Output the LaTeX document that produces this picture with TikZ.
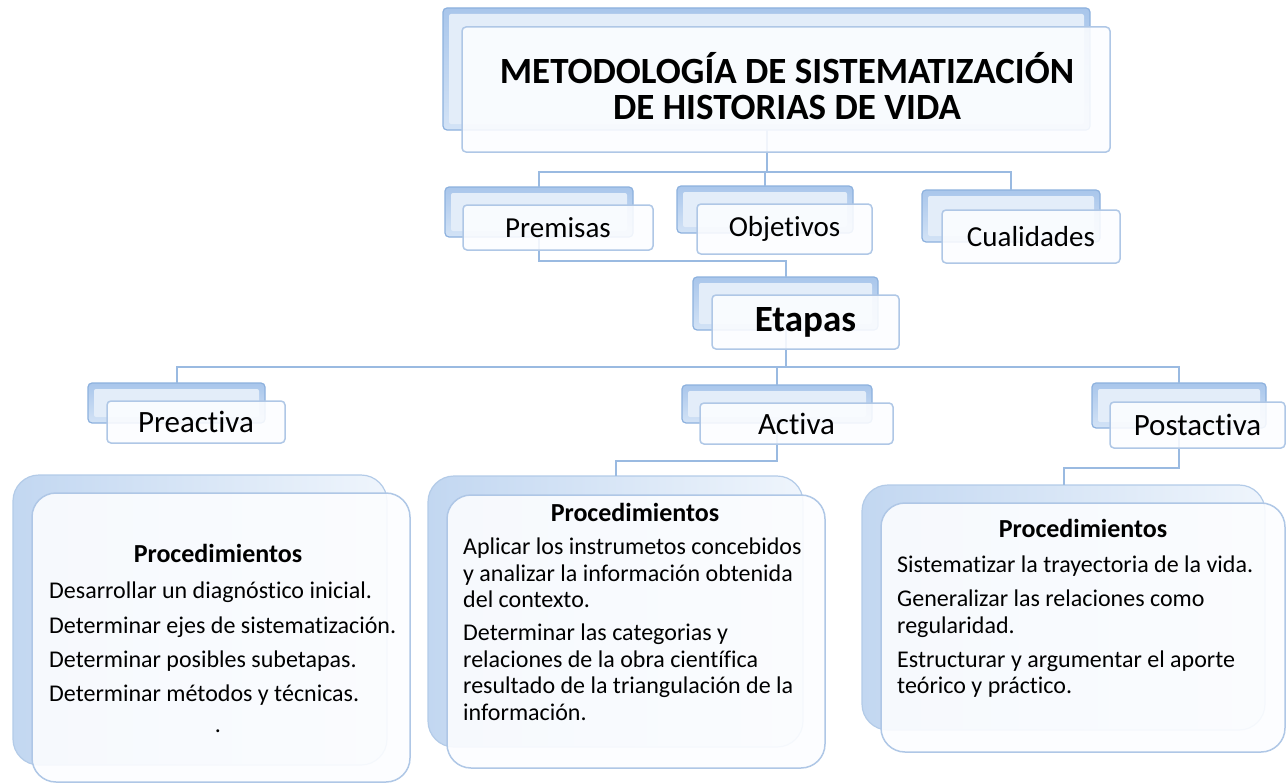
\documentclass[tikz,border=0pt]{standalone}
\usepackage{fontspec}
\setmainfont{Carlito}[Ligatures={NoCommon}, Contextuals={NoAlternate}]
\definecolor{connc}{HTML}{9ABAE1}
\definecolor{backdraw}{HTML}{8DB1DE}
\definecolor{backtop}{HTML}{A9C6EB}
\definecolor{backbot}{HTML}{D3E3F6}
\definecolor{facec}{HTML}{E3EDF9}
\definecolor{frontdraw}{HTML}{AFC7E6}
\definecolor{frontfill}{HTML}{FCFDFF}
\definecolor{bigdraw}{HTML}{B3CBE8}
\definecolor{bigleft}{HTML}{C2D7F1}
\definecolor{bigmid}{HTML}{E2ECF9}
\definecolor{bigright}{HTML}{EFF5FC}
\tikzset{
  connl/.style={draw=connc, line width=2pt},
  backbox/.style={draw=backdraw, line width=1.2pt, rounded corners=4pt,
    top color=backtop, bottom color=backbot, anchor=north west,
    inner sep=0pt, outer sep=0pt,
    path picture={\fill[facec, rounded corners=2pt]
      ([shift={(6pt,-6pt)}]path picture bounding box.north west) rectangle
      ([shift={(-6pt,6pt)}]path picture bounding box.south east);}},
  frontbox/.style={draw=frontdraw, line width=1.5pt, rounded corners=4pt,
    fill=frontfill, fill opacity=0.88, text opacity=1, anchor=north west,
    inner sep=0pt, outer sep=0pt, text=black},
  bigback/.style={draw=bigdraw, line width=1.2pt, rounded corners=26pt,
    left color=bigleft, middle color=bigmid, right color=bigright,
    anchor=north west, inner sep=0pt, outer sep=0pt},
  bigfront/.style={draw=frontdraw, line width=1.5pt, rounded corners=24pt,
    fill=frontfill, fill opacity=0.9, anchor=north west,
    inner sep=0pt, outer sep=0pt},
  lab/.style={font=\fontsize{29}{32}\selectfont},
  stagelab/.style={font=\fontsize{31}{34}\selectfont},
  headl/.style={font=\fontsize{26}{28}\selectfont\bfseries, inner sep=0pt},
  bodyl/.style={font=\fontsize{24}{26.5}\selectfont, align=left, anchor=north west, inner sep=0pt},
}
\begin{document}
\begin{tikzpicture}[x=1pt,y=-1pt]
\useasboundingbox (0,0) rectangle (1286,784);
\fill[white] (0,0) rectangle (1286,784);

% back boxes
\node[backbox, minimum width=647pt, minimum height=122pt] (titleB) at (443,8) {};
\node[backbox, minimum width=188pt, minimum height=50pt] (premB) at (445,187) {};
\node[backbox, minimum width=176pt, minimum height=47pt] (objB) at (677,186) {};
\node[backbox, minimum width=178pt, minimum height=52pt] (cualB) at (922,190) {};
\node[backbox, minimum width=185pt, minimum height=53pt] (etB) at (693,277) {};
\node[backbox, minimum width=177pt, minimum height=40pt] (preB) at (88,383) {};
\node[backbox, minimum width=190pt, minimum height=38pt] (actB) at (682,385) {};
\node[backbox, minimum width=174pt, minimum height=45pt] (postB) at (1092,383) {};

% connector helper levels
\coordinate (m1) at (0,172);
\coordinate (m2) at (0,261);
\coordinate (m3) at (0,367);
\coordinate (m4) at (0,461);
\coordinate (m5) at (0,468);

% big back boxes
\node[bigback, minimum width=374pt, minimum height=290pt] (leftB) at (13,475) {};
\node[bigback, minimum width=375pt, minimum height=271pt] (midB) at (428,476) {};
\node[bigback, minimum width=403pt, minimum height=245pt] (rightB) at (862,485) {};

% connectors
\draw[connl] (titleB.south) -- (titleB.south |- m1);
\draw[connl] (premB.north) |- (cualB.north |- m1) -- (cualB.north);
\draw[connl] (objB.north) -- (objB.north |- m1);
\draw[connl] (premB.south) |- (etB.north |- m2) -- (etB.north);
\draw[connl] (etB.south) -- (etB.south |- m3);
\draw[connl] (preB.north) |- (postB.north |- m3) -- (postB.north);
\draw[connl] (actB.north) -- (actB.north |- m3);
\draw[connl] (actB.south) |- (midB.north |- m4) -- (midB.north);
\draw[connl] (postB.south) |- (rightB.north |- m5) -- (rightB.north);

% front boxes
\node[frontbox, minimum width=648pt, minimum height=125pt] (titleF) at (462,27) {};
\node[font=\fontsize{37}{36.5}\selectfont\bfseries, align=center, inner sep=0pt]
  (titleT) at (787,86) {METODOLOGÍA DE SISTEMATIZACIÓN\\DE HISTORIAS DE VIDA};
\node[frontbox, lab, minimum width=190pt, minimum height=45pt] (premF) at (463,205) {Premisas};
\node[frontbox, lab, minimum width=175pt, minimum height=50pt] (objF) at (697,204) {Objetivos};
\node[frontbox, lab, minimum width=178pt, minimum height=53pt] (cualF) at (942,210) {Cualidades};
\node[frontbox, font=\fontsize{37}{40}\selectfont\bfseries, minimum width=187pt, minimum height=54pt] (etF) at (712,295) {Etapas};
\node[frontbox, stagelab, minimum width=178pt, minimum height=42pt] (preF) at (107,401) {Preactiva};
\node[frontbox, stagelab, minimum width=193pt, minimum height=41pt] (actF) at (700,403) {Activa};
\node[frontbox, stagelab, minimum width=175pt, minimum height=46pt] (postF) at (1110,402) {Postactiva};

\node[bigfront, minimum width=378pt, minimum height=289pt] (leftF) at (32,493) {};
\node[bigfront, minimum width=378pt, minimum height=273pt] (midF) at (447,495) {};
\node[bigfront, minimum width=404pt, minimum height=249pt] (rightF) at (881,503) {};

% texts in big boxes
\node[headl] (leftH) at (218,553) {Procedimientos};
\node[bodyl, font=\fontsize{24}{34.3}\selectfont] (leftT) at (49,582) {Desarrollar un diagnóstico inicial.\\
Determinar ejes de sistematización.\\
Determinar posibles subetapas.\\
Determinar métodos y técnicas.};
\node[font=\fontsize{24}{26}\selectfont, inner sep=0pt] (leftDot) at (218,731) {.};

\node[headl] (midH) at (635,512) {Procedimientos};
\node[bodyl] (midT) at (463,538) {Aplicar los instrumetos concebidos\\
y analizar la información obtenida\\
del contexto.\\[6.5pt]
Determinar las categorias y\\
relaciones de la obra científica\\
resultado de la triangulación de la\\
información.};

\node[headl] (rightH) at (1083,528) {Procedimientos};
\node[bodyl] (rightT) at (897,556) {Sistematizar la trayectoria de la vida.\\[7.5pt]
Generalizar las relaciones como\\
regularidad.\\[7.5pt]
Estructurar y argumentar el aporte\\
teórico y práctico.};
\end{tikzpicture}
\end{document}
